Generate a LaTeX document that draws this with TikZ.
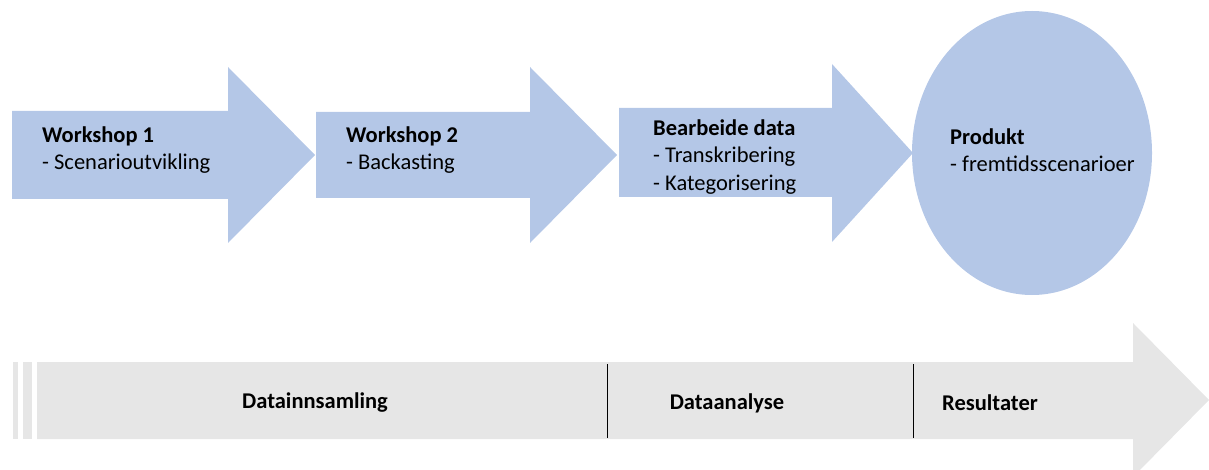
\documentclass[tikz,border=0pt]{standalone}
\usepackage{fontspec}
\setmainfont{Carlito}
\definecolor{stepblue}{HTML}{B4C7E7}
\definecolor{phasegray}{HTML}{E6E6E6}
\begin{document}
\begin{tikzpicture}[x=1pt,y=-1pt,
    txt/.style={anchor=west,align=left,inner sep=0pt,font=\fontsize{22.5}{27.5}\selectfont},
    phase/.style={inner sep=0pt,font=\fontsize{22.5}{27}\selectfont\bfseries}]
      \useasboundingbox (0,0) rectangle (1209,470);
      % upper process arrows
      \fill[stepblue] (12,111) -- (228,111) -- (228,67) -- (315,155) -- (228,243) -- (228,199) -- (12,199) -- cycle;
      \fill[stepblue] (316,112) -- (530,112) -- (530,67) -- (617,155) -- (530,243) -- (530,198) -- (316,198) -- cycle;
      \fill[stepblue] (619,108) -- (832,108) -- (832,64) -- (913,153) -- (832,242) -- (832,197) -- (619,197) -- cycle;
      \fill[stepblue] (1032,153) ellipse[x radius=120, y radius=142];
      \node[txt] (ws1) at (42,150) {\textbf{Workshop 1}\\- Scenarioutvikling};
      \node[txt] (ws2) at (346,150) {\textbf{Workshop 2}\\- Backasting};
      \node[txt] (data) at (653,157) {\textbf{Bearbeide data}\\- Transkribering\\- Kategorisering};
      \node[txt] (prod) at (950,150) {\textbf{Produkt}\\- fremtidsscenarioer};
      % lower time line
      \fill[phasegray] (13,362) rectangle (18,439);
      \fill[phasegray] (23,362) rectangle (32,439);
      \fill[phasegray] (37,362) -- (1133,362) -- (1133,323) -- (1209,400) -- (1133,477) -- (1133,439) -- (37,439) -- cycle;
      \coordinate (d1t) at (607,364);
      \coordinate (d1b) at (607,438);
      \coordinate (d2t) at (913,364);
      \coordinate (d2b) at (913,438);
      \draw[line width=1pt] (d1t) -- (d1b);
      \draw[line width=1pt] (d2t) -- (d2b);
      \node[phase] (innsamling) at (315,403) {Datainnsamling};
      \node[phase] (analyse) at (727,403) {Dataanalyse};
      \node[phase,anchor=west] (resultat) at (942,403) {Resultater};
\end{tikzpicture}
\end{document}
